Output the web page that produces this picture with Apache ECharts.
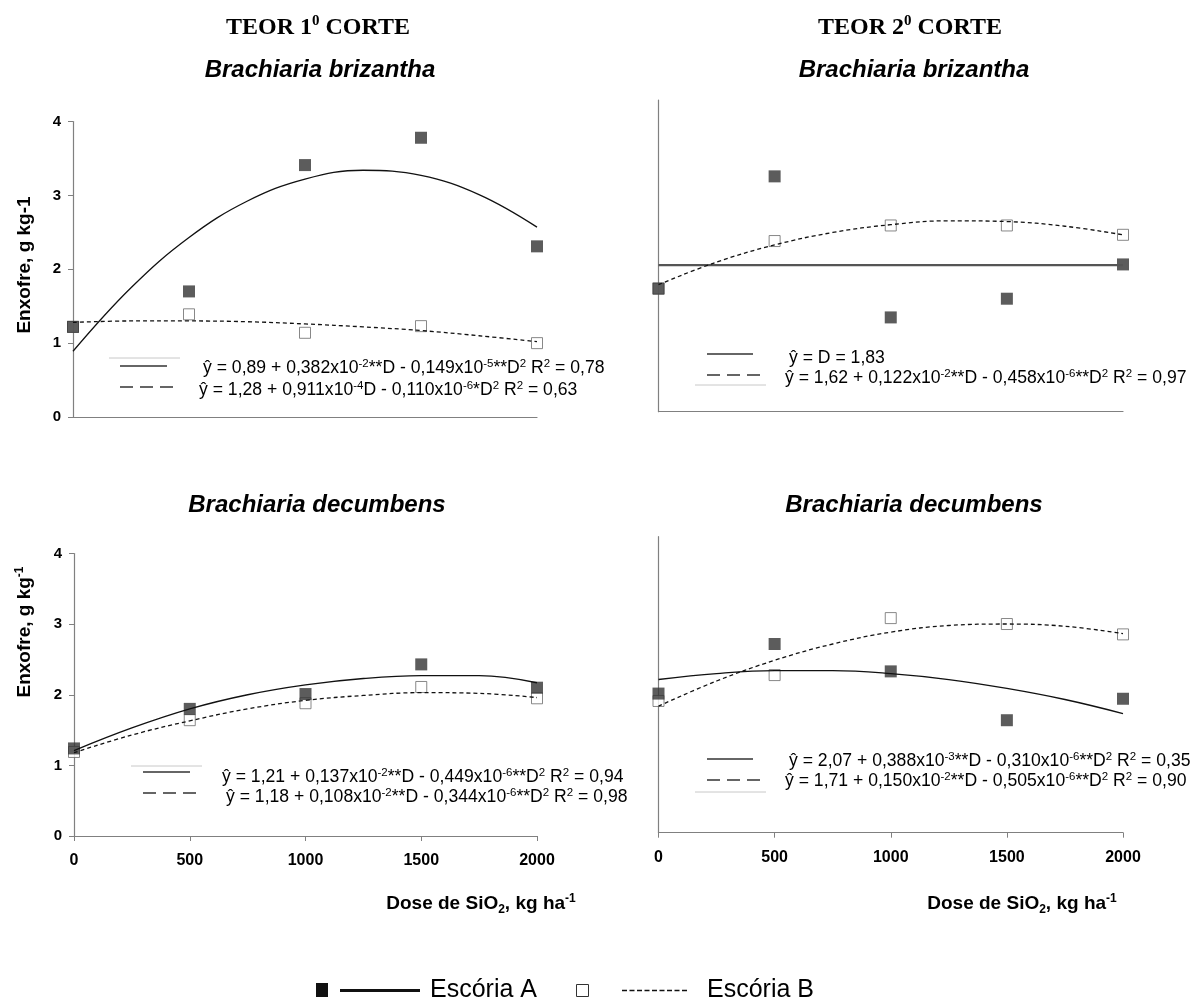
<!DOCTYPE html>
<html><head><meta charset="utf-8">
<script src="https://cdn.jsdelivr.net/npm/echarts@6/dist/echarts.min.js"></script>
<style>html,body{margin:0;padding:0;background:#fff}#c{width:1192px;height:1005px}</style>
</head><body><div id="c"></div><script>
// ---------- data ----------
const doses = [0, 500, 1000, 1500, 2000];
const curveDoses = [0, 250, 500, 750, 1000, 1250, 1500, 1750, 2000];
const xTickValues = [0, 500, 1000, 1500, 2000];
const yTickValues = [0, 1, 2, 3, 4];

// 1º corte – B. brizantha
const p1A = [1.22, 1.70, 3.41, 3.78, 2.31];
const p1B = [1.22, 1.39, 1.14, 1.23, 1.00];
const p1FitA = [0.89, 1.75, 2.43, 2.92, 3.22, 3.34, 3.27, 3.01, 2.57];
const p1FitB = [1.28, 1.30, 1.30, 1.29, 1.26, 1.22, 1.17, 1.10, 1.02];
// 2º corte – B. brizantha
const p2A = [1.58, 3.02, 1.21, 1.45, 1.89];
const p2B = [1.58, 2.19, 2.39, 2.39, 2.27];
const p2MeanDoses = [0, 2000];
const p2MeanA = [1.88, 1.88];
const p2FitB = [1.63, 1.92, 2.14, 2.30, 2.40, 2.45, 2.44, 2.38, 2.27];
// 1º corte – B. decumbens
const p3A = [1.24, 1.80, 2.01, 2.43, 2.10];
const p3B = [1.19, 1.64, 1.88, 2.11, 1.95];
const p3FitA = [1.21, 1.53, 1.80, 2.00, 2.14, 2.23, 2.27, 2.27, 2.17];
const p3FitB = [1.18, 1.43, 1.63, 1.80, 1.92, 1.99, 2.03, 2.02, 1.96];
// 2º corte – B. decumbens
const p4A = [1.88, 2.55, 2.18, 1.52, 1.81];
const p4B = [1.78, 2.13, 2.90, 2.82, 2.68];
const p4FitA = [2.07, 2.15, 2.19, 2.19, 2.15, 2.07, 1.95, 1.80, 1.61];
const p4FitB = [1.71, 2.05, 2.33, 2.55, 2.71, 2.80, 2.82, 2.79, 2.69];

const eqTL = ['ŷ = 0,89 + 0,382x10{s|-2}**D - 0,149x10{s|-5}**D{s|2} R{s|2} = 0,78',
              'ŷ = 1,28 + 0,911x10{s|-4}D - 0,110x10{s|-6}*D{s|2} R{s|2} = 0,63'];
const eqTR = ['ŷ = D = 1,83',
              'ŷ = 1,62 + 0,122x10{s|-2}**D - 0,458x10{s|-6}**D{s|2} R{s|2} = 0,97'];
const eqBL = ['ŷ = 1,21 + 0,137x10{s|-2}**D - 0,449x10{s|-6}**D{s|2} R{s|2} = 0,94',
              'ŷ = 1,18 + 0,108x10{s|-2}**D - 0,344x10{s|-6}**D{s|2} R{s|2} = 0,98'];
const eqBR = ['ŷ = 2,07 + 0,388x10{s|-3}**D - 0,310x10{s|-6}**D{s|2} R{s|2} = 0,35',
              'ŷ = 1,71 + 0,150x10{s|-2}**D - 0,505x10{s|-6}**D{s|2} R{s|2} = 0,90'];

// ---------- helpers ----------
const SANS = 'Liberation Sans, Arial, sans-serif';
const SERIF = 'Liberation Serif, Times New Roman, serif';
const pair = (xs, ys) => xs.map((x, i) => [x, ys[i]]);
const axisGray = '#808080';

const grids = [
  {left: 73, top: 121.5, width: 464, height: 295.5},
  {left: 658.5, top: 100, width: 464.5, height: 311.7},
  {left: 74, top: 553.5, width: 463, height: 282.5},
  {left: 658.5, top: 536.7, width: 464.5, height: 296}
];
const showYLabels = [true, false, true, false];
const showXLabels = [false, false, true, true];

const xAxes = grids.map((g, i) => ({
  type: 'value', gridIndex: i, min: 0, max: 2000, interval: 500,
  axisLine: {show: true, onZero: false, lineStyle: {color: axisGray, width: 1.2}},
  axisTick: {show: showXLabels[i], length: 5, lineStyle: {color: axisGray}},
  axisLabel: {show: showXLabels[i], margin: 17, fontFamily: SANS, fontWeight: 'bold', fontSize: 16, color: '#000',
    formatter: v => String(v)},
  splitLine: {show: false}
}));
const yAxes = grids.map((g, i) => ({
  type: 'value', gridIndex: i, min: 0, max: 4, interval: 1,
  axisLine: {show: true, onZero: false, lineStyle: {color: axisGray, width: 1.2}},
  axisTick: {show: showYLabels[i], length: 5, lineStyle: {color: axisGray}},
  axisLabel: {show: showYLabels[i], margin: 12, fontFamily: SANS, fontWeight: 'bold', fontSize: 15, color: '#000',
    formatter: v => String(v)},
  splitLine: {show: false}
}));

function openPts(i, ys) {
  return {type: 'scatter', xAxisIndex: i, yAxisIndex: i, data: pair(doses, ys), symbol: 'rect', symbolSize: 11,
    itemStyle: {color: '#fff', borderColor: '#6a6a6a', borderWidth: 1}, z: 2, silent: true};
}
function filledPts(i, ys) {
  return {type: 'scatter', xAxisIndex: i, yAxisIndex: i, data: pair(doses, ys), symbol: 'rect', symbolSize: 12,
    itemStyle: {color: '#333333'}, z: 3, silent: true};
}
function fit(i, xs, ys, dashed, extra) {
  return Object.assign({type: 'line', xAxisIndex: i, yAxisIndex: i, data: pair(xs, ys), smooth: 0.4,
    showSymbol: false, symbol: 'none', silent: true, z: 4,
    lineStyle: {color: '#111', width: 1.3, type: dashed ? [4, 3] : 'solid'}}, extra || {});
}

const series = [
  openPts(0, p1B), filledPts(0, p1A), fit(0, curveDoses, p1FitA, false), fit(0, curveDoses, p1FitB, true),
  openPts(1, p2B), filledPts(1, p2A),
  fit(1, p2MeanDoses, p2MeanA, false, {smooth: false, lineStyle: {color: '#555', width: 2.2}}),
  fit(1, curveDoses, p2FitB, true),
  openPts(2, p3B), filledPts(2, p3A), fit(2, curveDoses, p3FitA, false), fit(2, curveDoses, p3FitB, true),
  openPts(3, p4B), filledPts(3, p4A), fit(3, curveDoses, p4FitA, false), fit(3, curveDoses, p4FitB, true)
];

// ---------- text / annotation graphics ----------
const g = [];
function txt(x, y, text, o) {
  o = o || {};
  g.push({type: 'text', x: x, y: y, rotation: o.rotation || 0, z: 10, silent: true,
    style: {text: text, fontFamily: o.family || SANS, fontSize: o.size || 17.6, fontWeight: o.weight || 'normal',
      fontStyle: o.style || 'normal', fill: '#000', align: o.align || 'left', verticalAlign: 'middle',
      lineHeight: o.lh || 21, rich: o.rich || {}}});
}
function seg(x1, y1, x2, y2, stroke, w, dash) {
  g.push({type: 'line', z: 10, silent: true, shape: {x1: x1, y1: y1, x2: x2, y2: y2},
    style: {stroke: stroke, lineWidth: w, lineDash: dash || null}});
}
const eqRich = {s: {fontSize: 11.5, fontFamily: SANS, verticalAlign: 'top', lineHeight: 12}};

// titles
const titleRich = {s: {fontSize: 15, fontFamily: SERIF, fontWeight: 'bold', verticalAlign: 'top', lineHeight: 15}};
txt(318, 28, 'TEOR 1{s|0} CORTE', {family: SERIF, size: 24, weight: 'bold', align: 'center', lh: 28, rich: titleRich});
txt(910, 28, 'TEOR 2{s|0} CORTE', {family: SERIF, size: 24, weight: 'bold', align: 'center', lh: 28, rich: titleRich});
txt(320, 70, 'Brachiaria brizantha', {size: 24, weight: 'bold', style: 'italic', align: 'center'});
txt(914, 70, 'Brachiaria brizantha', {size: 24, weight: 'bold', style: 'italic', align: 'center'});
txt(317, 505, 'Brachiaria decumbens', {size: 24, weight: 'bold', style: 'italic', align: 'center'});
txt(914, 505, 'Brachiaria decumbens', {size: 24, weight: 'bold', style: 'italic', align: 'center'});

// axis names
txt(25, 265, 'Enxofre, g kg-1', {size: 19, weight: 'bold', align: 'center', rotation: Math.PI / 2});
txt(25, 632, 'Enxofre, g kg{s|-1}', {size: 19, weight: 'bold', align: 'center', rotation: Math.PI / 2, lh: 22,
  rich: {s: {fontSize: 12, fontWeight: 'bold', fontFamily: SANS, verticalAlign: 'top', lineHeight: 12}}});
const doseRich = {
  sub: {fontSize: 12, fontWeight: 'bold', fontFamily: SANS, verticalAlign: 'bottom', lineHeight: 12},
  s: {fontSize: 12, fontWeight: 'bold', fontFamily: SANS, verticalAlign: 'top', lineHeight: 12}
};
txt(481, 904, 'Dose de SiO{sub|2}, kg ha{s|-1}', {size: 19, weight: 'bold', align: 'center', lh: 23, rich: doseRich});
txt(1022, 904, 'Dose de SiO{sub|2}, kg ha{s|-1}', {size: 19, weight: 'bold', align: 'center', lh: 23, rich: doseRich});

// equation blocks
function eqBlock(eq, p) {
  seg(p.gx1, p.gy, p.gx2, p.gy, '#c8c8c8', 1);
  seg(p.sx, p.y1, p.sx + p.sw, p.y1, '#333', 1.6);
  seg(p.sx, p.y2, p.sx + p.dw, p.y2, '#333', 1.6, [13, 7]);
  txt(p.t1, p.ty1, eq[0], {rich: eqRich});
  txt(p.t2, p.ty2, eq[1], {rich: eqRich});
}
eqBlock(eqTL, {gx1: 109, gx2: 180, gy: 358, sx: 120, sw: 47, dw: 54, y1: 366, y2: 387, t1: 203, ty1: 368, t2: 199, ty2: 390});
eqBlock(eqTR, {gx1: 695, gx2: 766, gy: 385, sx: 707, sw: 46, dw: 53, y1: 354, y2: 375, t1: 789, ty1: 358, t2: 785, ty2: 378});
eqBlock(eqBL, {gx1: 131, gx2: 202, gy: 766, sx: 143, sw: 47, dw: 54, y1: 772, y2: 793, t1: 222, ty1: 777, t2: 226, ty2: 797});
eqBlock(eqBR, {gx1: 695, gx2: 766, gy: 792, sx: 707, sw: 46, dw: 53, y1: 759, y2: 780, t1: 789, ty1: 761, t2: 785, ty2: 781});

// bottom legend
g.push({type: 'rect', z: 10, silent: true, shape: {x: 316, y: 983, width: 12, height: 14}, style: {fill: '#111'}});
seg(340, 990.5, 420, 990.5, '#111', 3);
txt(430, 990, 'Escória A', {size: 25, lh: 28});
g.push({type: 'rect', z: 10, silent: true, shape: {x: 576.5, y: 984.5, width: 12, height: 12}, style: {fill: '#fff', stroke: '#333', lineWidth: 1}});
seg(622, 990.5, 688, 990.5, '#111', 1.6, [5, 2.5]);
txt(707, 990, 'Escória B', {size: 25, lh: 28});

const chart = echarts.init(document.getElementById('c'), null, {renderer: 'canvas'});
chart.setOption({
  animation: false,
  backgroundColor: '#fff',
  grid: grids,
  xAxis: xAxes,
  yAxis: yAxes,
  series: series,
  graphic: g
});
</script></body></html>
